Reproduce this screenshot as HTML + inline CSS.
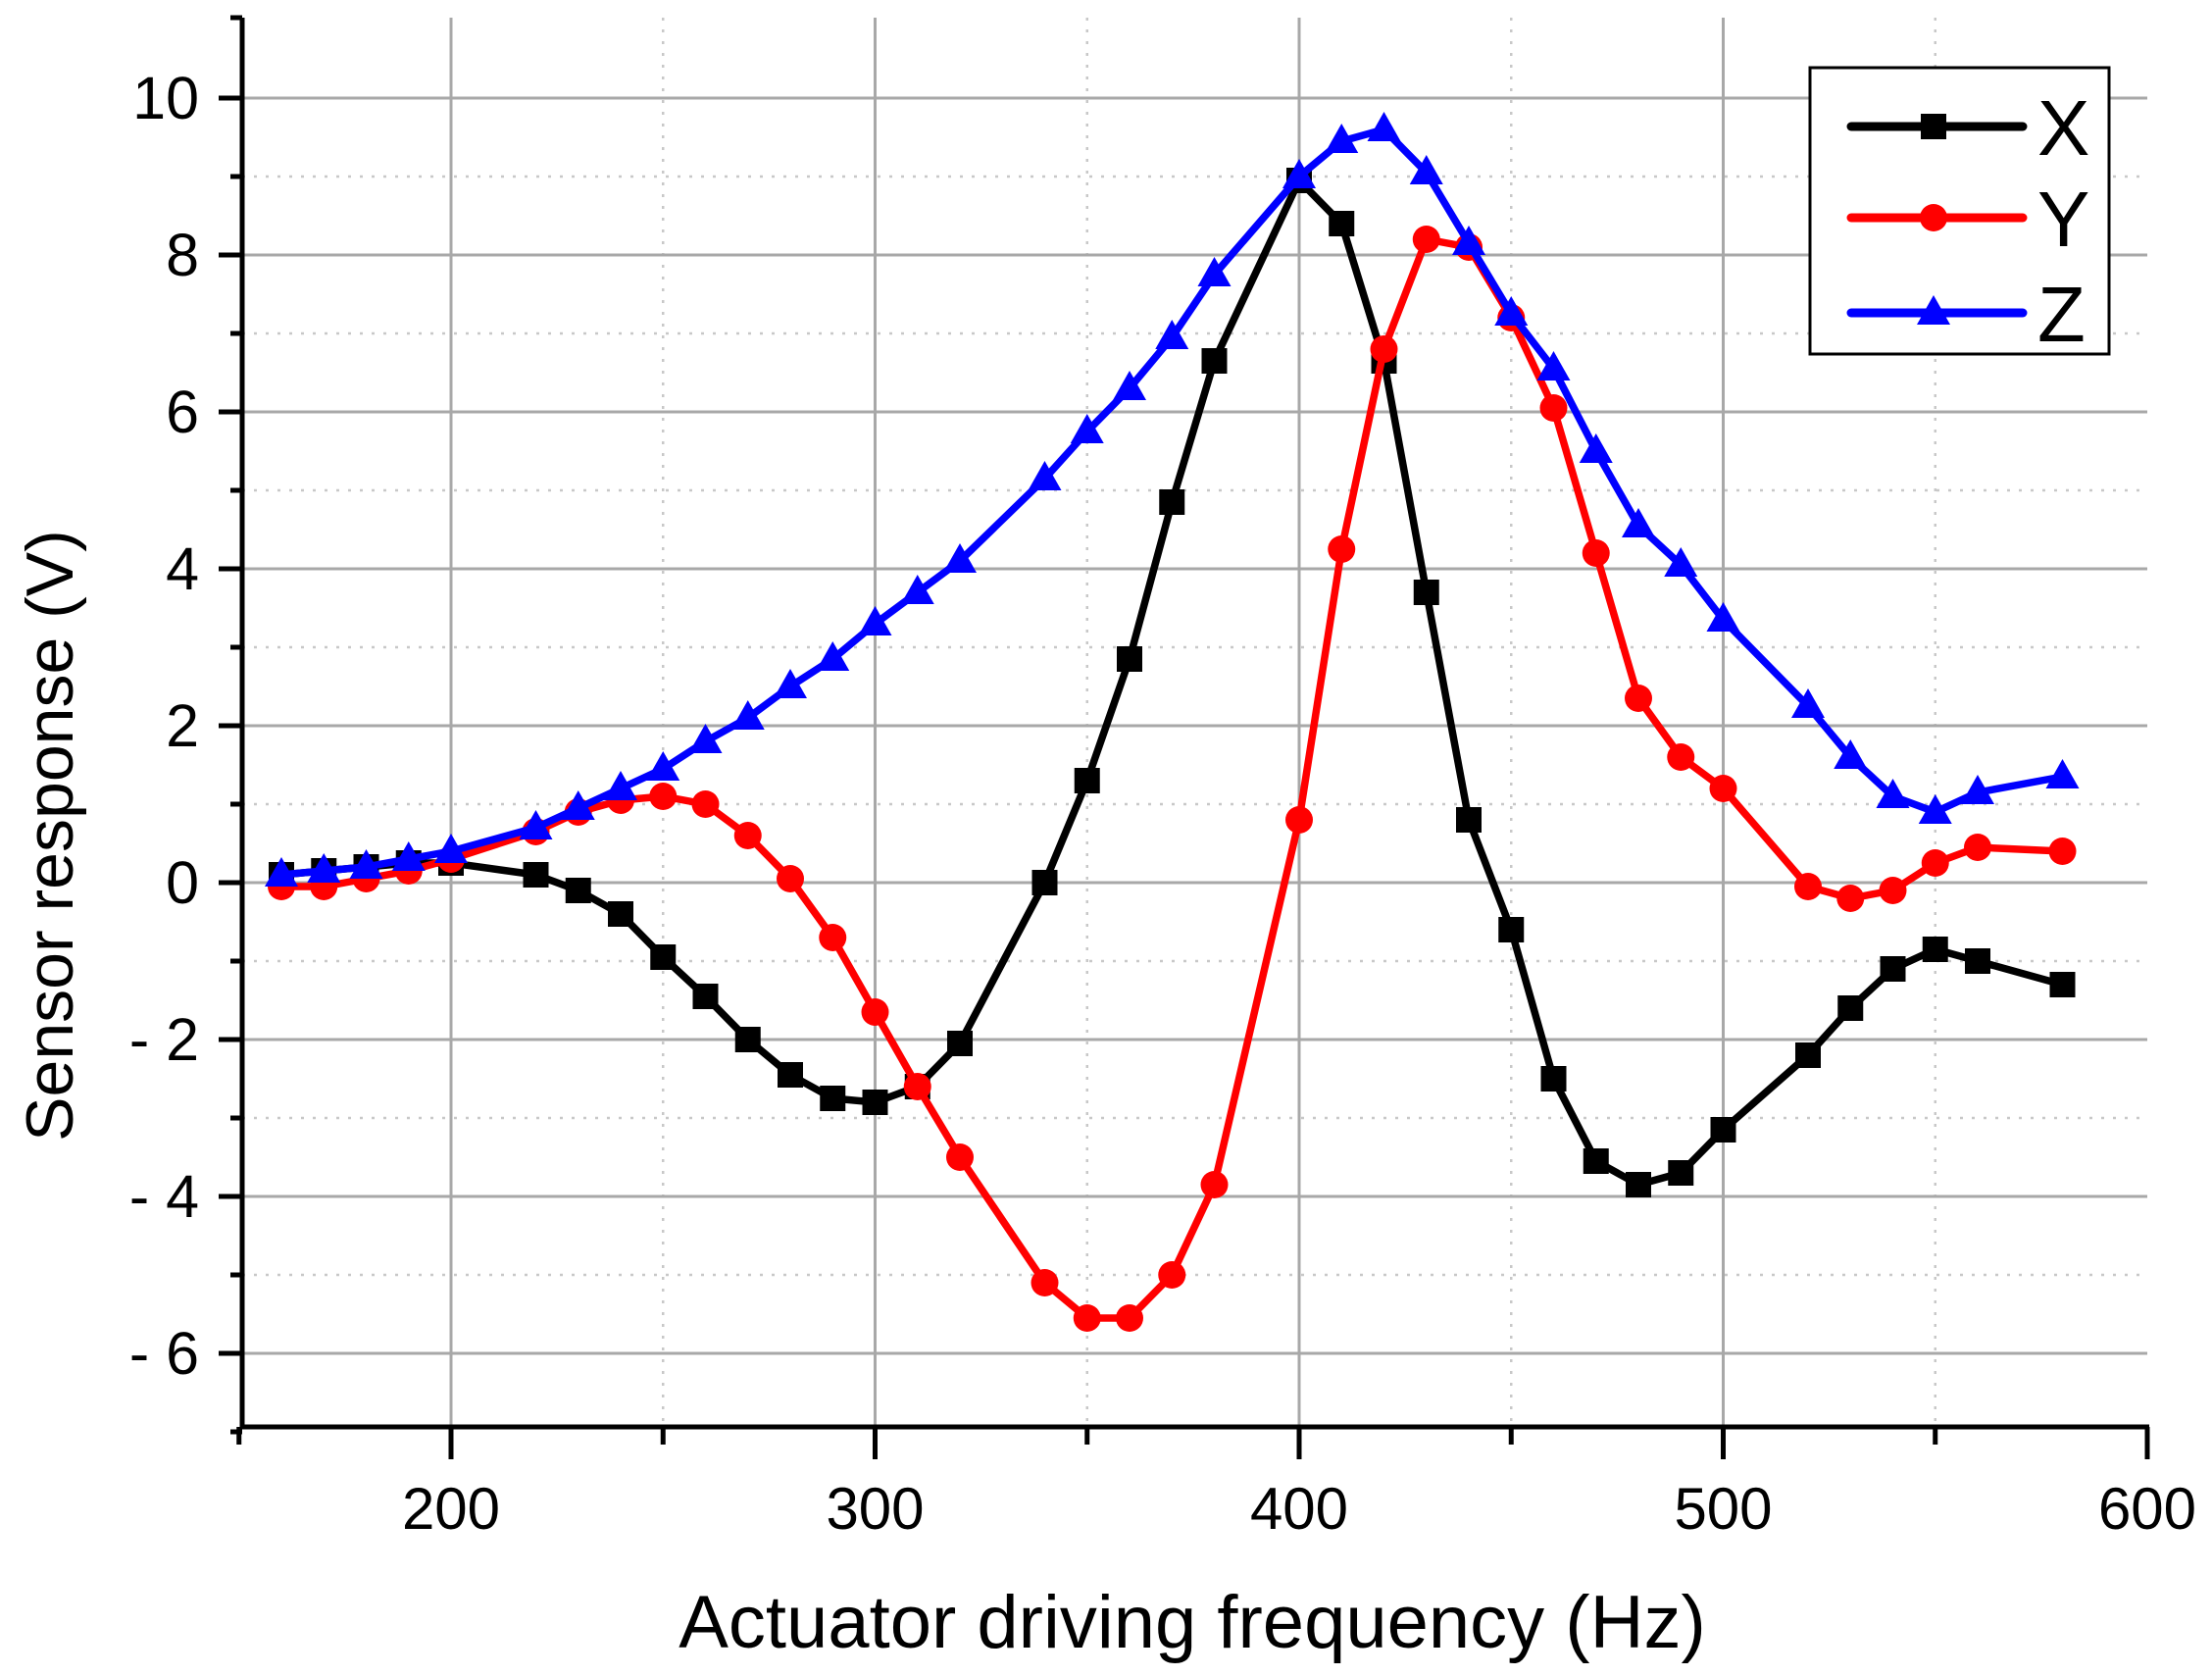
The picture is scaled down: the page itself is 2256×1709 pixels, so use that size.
<!DOCTYPE html>
<html><head><meta charset="utf-8"><style>
html,body{margin:0;padding:0;background:#fff;}
svg{display:block;font-family:"Liberation Sans",sans-serif;}
</style></head><body>
<svg id="s" width="2256" height="1709" viewBox="0 0 2256 1709" xmlns="http://www.w3.org/2000/svg"></svg>
<script>
const S=document.getElementById('s');
const X0=460,PX=4.325,Y0=900,PY=80;
const fx=f=>X0+(f-200)*PX, fy=v=>Y0-v*PY;
let h='';
const L=247,R=2190,T=18,B=1455;
for(let f=200;f<=550;f+=50){const x=fx(f);
 h+=`<line x1="${x}" y1="${T}" x2="${x}" y2="${B}" stroke="${f%100?'#c8c8c8':'#a8a8a8'}" stroke-width="${f%100?2.5:3}" ${f%100?'stroke-dasharray="3 9"':''}/>`;}
for(let v=-6;v<=10;v++){const y=fy(v);
 h+=`<line x1="${L}" y1="${y}" x2="${R}" y2="${y}" stroke="${v%2?'#c8c8c8':'#a8a8a8'}" stroke-width="${v%2?2.5:3}" ${v%2?'stroke-dasharray="3 9"':''}/>`;}
h+=`<line x1="${L}" y1="${T}" x2="${L}" y2="${B+2}" stroke="#000" stroke-width="5"/>`;
h+=`<line x1="${L-2}" y1="${B}" x2="${R+2}" y2="${B}" stroke="#000" stroke-width="5"/>`;
h+=`<line x1="${L-12}" y1="${T}" x2="${L}" y2="${T}" stroke="#000" stroke-width="5"/>`;
h+=`<line x1="${R}" y1="${B}" x2="${R}" y2="${B+33}" stroke="#000" stroke-width="5"/>`;
for(let v=-7;v<=10;v++){const y=fy(v);const len=v%2?12:24;
 h+=`<line x1="${L-len}" y1="${y}" x2="${L}" y2="${y}" stroke="#000" stroke-width="5"/>`;
 if(v%2==0&&v>=-6) h+=`<text x="203" y="${y+21}" text-anchor="end" font-size="61">${v<0?'- '+(-v):v}</text>`;}
for(let f=150;f<=600;f+=50){const x=fx(f);const len=f%100?18:33;
 h+=`<line x1="${x}" y1="${B}" x2="${x}" y2="${B+len}" stroke="#000" stroke-width="5"/>`;
 if(f%100==0&&f>=200) h+=`<text x="${x}" y="1559" text-anchor="middle" font-size="60">${f}</text>`;}
h+=`<text x="1216" y="1680" text-anchor="middle" font-size="76">Actuator driving frequency (Hz)</text>`;
h+=`<text transform="translate(74,852) rotate(-90)" text-anchor="middle" font-size="68">Sensor response (V)</text>`;
const fr=[160,170,180,190,200,220,230,240,250,260,270,280,290,300,310,320,340,350,360,370,380,400,410,420,430,440,450,460,470,480,490,500,520,530,540,550,560,580];
const X=[0.1,0.15,0.2,0.25,0.25,0.1,-0.1,-0.4,-0.95,-1.45,-2.0,-2.45,-2.75,-2.8,-2.6,-2.05,0.0,1.3,2.85,4.85,6.65,8.95,8.4,6.65,3.7,0.8,-0.6,-2.5,-3.55,-3.85,-3.7,-3.15,-2.2,-1.6,-1.1,-0.85,-1.0,-1.3];
const Yd=[-0.05,-0.05,0.05,0.15,0.3,0.65,0.9,1.05,1.1,1.0,0.6,0.05,-0.7,-1.65,-2.6,-3.5,-5.1,-5.55,-5.55,-5.0,-3.85,0.8,4.25,6.8,8.2,8.1,7.2,6.05,4.2,2.35,1.6,1.2,-0.05,-0.2,-0.1,0.25,0.45,0.4];
const Z=[0.1,0.15,0.2,0.3,0.4,0.7,0.95,1.2,1.45,1.8,2.1,2.5,2.85,3.3,3.7,4.1,5.15,5.75,6.3,6.95,7.75,9.0,9.45,9.6,9.05,8.15,7.25,6.55,5.5,4.55,4.05,3.35,2.25,1.6,1.1,0.9,1.15,1.35];
function mk(t,x,y,c){
 if(t=='s')return `<rect x="${x-13}" y="${y-13}" width="26" height="26" fill="${c}"/>`;
 if(t=='c')return `<circle cx="${x}" cy="${y}" r="14" fill="${c}"/>`;
 return `<polygon points="${x},${y-18} ${x+17},${y+12} ${x-17},${y+12}" fill="${c}"/>`;}
function ser(d,c,t){let p=fr.map((f,i)=>fx(f).toFixed(1)+','+fy(d[i]).toFixed(1)).join(' ');
 h+=`<polyline points="${p}" fill="none" stroke="${c}" stroke-width="7.5" stroke-linejoin="round"/>`;
 fr.forEach((f,i)=>h+=mk(t,fx(f),fy(d[i]),c));}
ser(X,'#000','s');ser(Yd,'#ff0000','c');ser(Z,'#0000ff','t');
h+=`<rect x="1846" y="69" width="305" height="292" fill="#fff" stroke="#000" stroke-width="3"/>`;
const lg=[['#000','s','X',129],['#ff0000','c','Y',222],['#0000ff','t','Z',319]];
lg.forEach(([c,t,n,y])=>{h+=`<line x1="1888" y1="${y}" x2="2063" y2="${y}" stroke="${c}" stroke-width="9" stroke-linecap="round"/>`+mk(t,1972,y,c)+`<text x="2078" y="${y+29}" font-size="80">${n}</text>`;});
S.innerHTML=h;
</script>
</body></html>
